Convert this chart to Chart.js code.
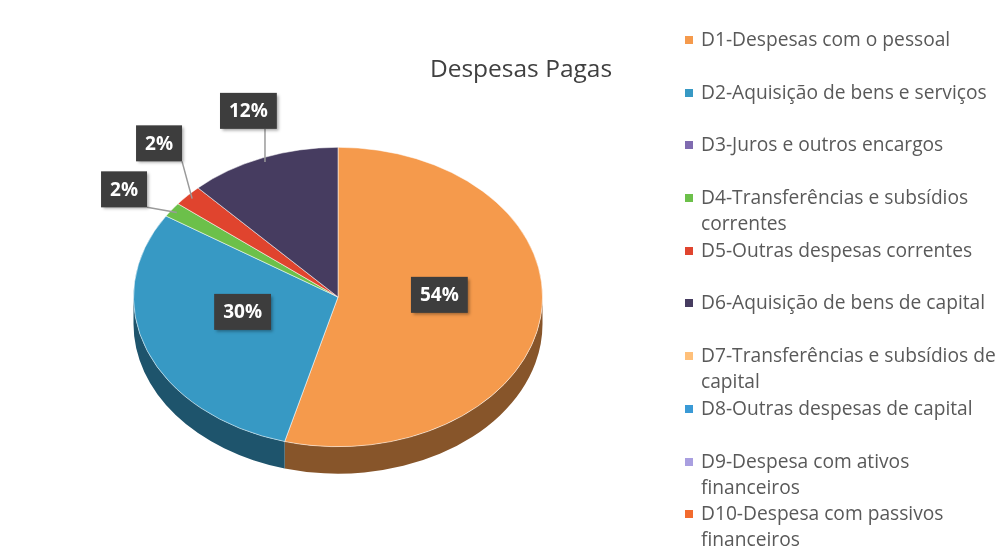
<!DOCTYPE html>
<html>
<head>
<meta charset="utf-8">
<script src="https://cdn.jsdelivr.net/npm/chart.js@4"></script>
<style>
  html, body { margin: 0; padding: 0; background: #fff; }
  #wrap { position: relative; width: 1005px; height: 551px; overflow: hidden; font-family: "Open Sans", sans-serif; }
  #pie { position: absolute; left: 0; top: 0; }
  #title { position: absolute; left: 391px; top: 51px; width: 260px; text-align: center; font-size: 24.5px; color: #404040; }
  #legend { position: absolute; left: 685px; top: 26px; }
  .item { position: relative; height: 52.7px; padding-left: 16px; font-size: 19.2px; line-height: 26px; color: #595959; white-space: nowrap; }
  .item .box { position: absolute; left: 0; top: 10px; width: 8px; height: 8px; }
</style>
</head>
<body>
<div id="wrap">
  <canvas id="pie" width="1005" height="551"></canvas>
  <div id="title">Despesas Pagas</div>
  <div id="legend"></div>
</div>
<script>
const categories = [
    ['D1-Despesas com o pessoal'],
    ['D2-Aquisição de bens e serviços'],
    ['D3-Juros e outros encargos'],
    ['D4-Transferências e subsídios', 'correntes'],
    ['D5-Outras despesas correntes'],
    ['D6-Aquisição de bens de capital'],
    ['D7-Transferências e subsídios de', 'capital'],
    ['D8-Outras despesas de capital'],
    ['D9-Despesa com ativos', 'financeiros'],
    ['D10-Despesa com passivos', 'financeiros']
];
const shares = [54.2, 29.9, 0, 1.6, 2.3, 12.0, 0, 0, 0, 0];
const colors = ['#F59A4C', '#3799C4', '#7F6BB0', '#6CC04A', '#E0442E', '#463C60', '#FFC07A', '#3A9AD6', '#A99FE0', '#F26B2E'];

const TILT = 0.732;   // vertical squash of the pie
const DEPTH = 27;     // side wall thickness

const darken = (hex, f) => {
    const n = parseInt(hex.slice(1), 16);
    const r = Math.round(((n >> 16) & 255) * f), g = Math.round(((n >> 8) & 255) * f), b = Math.round((n & 255) * f);
    return `rgb(${r},${g},${b})`;
};

const pie3d = {
    id: 'pie3d',
    beforeDatasetsDraw(chart) {
        const ctx = chart.ctx;
        const arcs = chart.getDatasetMeta(0).data;
        const cx = arcs[0].x, cy = arcs[0].y, rx = arcs[0].outerRadius, ry = rx * TILT;
        // side walls of the front half
        arcs.forEach((arc, i) => {
            if (!shares[i]) return;
            const s = Math.max(arc.startAngle, 0), e = Math.min(arc.endAngle, Math.PI);
            if (e <= s) return;
            ctx.beginPath();
            ctx.ellipse(cx, cy, rx, ry, 0, s, e);
            ctx.ellipse(cx, cy + DEPTH, rx, ry, 0, e, s, true);
            ctx.closePath();
            ctx.fillStyle = darken(colors[i], 0.55);
            ctx.fill();
        });
        ctx.save();
        ctx.translate(cx, cy);
        ctx.scale(1, TILT);
        ctx.translate(-cx, -cy);
    },
    afterDatasetsDraw(chart) {
        const ctx = chart.ctx;
        ctx.restore();
        const arcs = chart.getDatasetMeta(0).data;
        const cx = arcs[0].x, cy = arcs[0].y, rx = arcs[0].outerRadius, ry = rx * TILT;
        const total = shares.reduce((a, b) => a + b, 0);
        ctx.font = 'bold 19px "Open Sans"';
        const labels = [];
        arcs.forEach((arc, i) => {
            if (!shares[i]) return;
            const mid = (arc.startAngle + arc.endAngle) / 2;
            const c = Math.cos(mid), s = Math.sin(mid);
            const pct = shares[i] / total;
            const text = Math.round(pct * 100) + '%';
            const w = ctx.measureText(text).width + 18, h = 36;
            if (pct >= 0.2) {
                labels.push({text, w, h, x: cx + 0.5 * rx * c, y: cy + 0.5 * ry * s - 12});
            } else {
                const ax = cx + rx * c * 0.97, ay = cy + ry * s * 0.97;
                labels.push({text, w, h, x: ax + c * 45, y: ay + s * 55, ax, ay});
            }
        });
        // push apart overlapping outside labels
        const outside = labels.filter(l => l.ax !== undefined).sort((a, b) => a.y - b.y);
        for (let k = 1; k < outside.length; k++) {
            const p = outside[k - 1], q = outside[k];
            const overlapY = (p.h + q.h) / 2 + 10 - (q.y - p.y);
            const overlapX = (p.w + q.w) / 2 - Math.abs(q.x - p.x);
            if (overlapY > 0 && overlapX > 0) {
                p.y -= overlapY * 2 / 3;
                q.y += overlapY / 3;
                q.x -= overlapY * 0.6;
            }
        }
        // leader lines
        ctx.strokeStyle = '#9A9A9A';
        ctx.lineWidth = 1.5;
        outside.forEach(l => {
            const bx = Math.min(Math.max(l.ax, l.x - l.w / 2), l.x + l.w / 2);
            const by = Math.min(Math.max(l.ay, l.y - l.h / 2), l.y + l.h / 2);
            ctx.beginPath();
            ctx.moveTo(bx, by);
            ctx.lineTo(l.ax, l.ay);
            ctx.stroke();
        });
        // boxes
        ctx.textAlign = 'center';
        ctx.textBaseline = 'middle';
        labels.forEach(l => {
            ctx.save();
            ctx.shadowColor = 'rgba(0,0,0,0.35)';
            ctx.shadowBlur = 3;
            ctx.shadowOffsetX = 2;
            ctx.shadowOffsetY = 2;
            ctx.fillStyle = '#3D3D3D';
            ctx.fillRect(l.x - l.w / 2, l.y - l.h / 2, l.w, l.h);
            ctx.restore();
            ctx.fillStyle = '#FFFFFF';
            ctx.fillText(l.text, l.x, l.y + 1);
        });
    }
};

new Chart(document.querySelector('#pie').getContext('2d'), {
    type: 'pie',
    data: {
        labels: categories.map(c => c.join(' ')),
        datasets: [{
            data: shares,
            backgroundColor: colors,
            borderColor: 'rgba(255,255,255,0.6)',
            borderWidth: 1
        }]
    },
    options: {
        responsive: false,
        animation: false,
        layout: { padding: { left: 133, right: 462, top: 92, bottom: 49 } },
        plugins: {
            legend: { display: false },
            tooltip: { enabled: false }
        }
    },
    plugins: [pie3d]
});

// legend as html, rows of equal height
const legend = document.querySelector('#legend');
categories.forEach((lines, i) => {
    const item = document.createElement('div');
    item.className = 'item';
    const box = document.createElement('span');
    box.className = 'box';
    box.style.background = colors[i];
    item.appendChild(box);
    lines.forEach((line, j) => {
        if (j) item.appendChild(document.createElement('br'));
        item.appendChild(document.createTextNode(line));
    });
    legend.appendChild(item);
});
</script>
</body>
</html>
